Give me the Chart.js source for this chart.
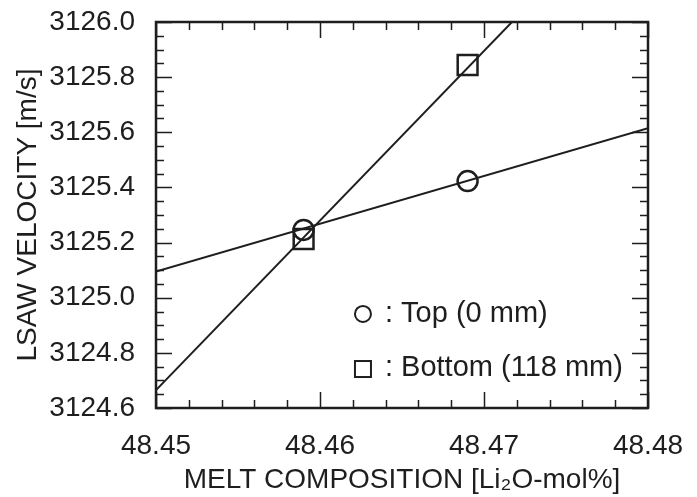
<!DOCTYPE html>
<html>
<head>
<meta charset="utf-8">
<script src="https://cdn.jsdelivr.net/npm/chart.js@4.4.0/dist/chart.umd.min.js"></script>
<style>
  html,body{margin:0;padding:0;background:#fff;}
  #wrap{width:697px;height:497px;position:relative;}
</style>
</head>
<body>
<div id="wrap"><canvas id="c" width="697" height="497"></canvas></div>
<script>
// measured points
const compX = [48.459, 48.469];
const topVel = [3125.246, 3125.423];
const bottomVel = [3125.213, 3125.844];
// fitted lines (end points at the axis limits)
const fitX = [48.45, 48.48];
const topFit = [3125.095, 3125.615];
const bottomFit = [3124.665, 3126.51];
// axis ticks
const xTicks = [48.45, 48.46, 48.47, 48.48];
const yTicks = [3124.6, 3124.8, 3125.0, 3125.2, 3125.4, 3125.6, 3125.8, 3126.0];
const legendLabels = [': Top (0 mm)', ': Bottom (118 mm)'];

const INK = '#1e1e1e';
const FONT = 'Liberation Sans, Arial, sans-serif';

function pts(xs, ys){ return xs.map((x,i)=>({x:x, y:ys[i]})); }

// inward ticks on all four sides + box + legend
const frame = {
  id:'frame',
  afterDatasetsDraw(chart){
    const {ctx, chartArea:a, scales:{x, y}} = chart;
    ctx.save();
    ctx.strokeStyle = INK;
    ctx.lineWidth = 1.5;
    const tick = (px, len, vertical) => {
      ctx.beginPath();
      if(vertical){
        ctx.moveTo(px, a.bottom); ctx.lineTo(px, a.bottom - len);
        ctx.moveTo(px, a.top); ctx.lineTo(px, a.top + len);
      }else{
        ctx.moveTo(a.left, px); ctx.lineTo(a.left + len, px);
        ctx.moveTo(a.right, px); ctx.lineTo(a.right - len, px);
      }
      ctx.stroke();
    };
    for(let i=0;i<=15;i++){
      const v = 48.45 + i*0.002;
      tick(Math.round(x.getPixelForValue(v))+0.5, i%5===0 ? 16 : 8, true);
    }
    for(let i=0;i<=28;i++){
      const v = 3124.6 + i*0.05;
      tick(Math.round(y.getPixelForValue(v))+0.5, i%4===0 ? 16 : 8, false);
    }
    ctx.lineWidth = 2.5;
    ctx.strokeRect(a.left, a.top, a.right - a.left, a.bottom - a.top);

    // legend
    ctx.lineWidth = 2;
    ctx.fillStyle = INK;
    ctx.font = '29px ' + FONT;
    ctx.textBaseline = 'middle';
    const lx = x.getPixelForValue(48.46262);
    const ly1 = y.getPixelForValue(3124.941);
    const ly2 = y.getPixelForValue(3124.745);
    ctx.beginPath(); ctx.arc(lx, ly1, 8, 0, Math.PI*2); ctx.stroke();
    ctx.strokeRect(lx - 8, ly2 - 7, 16, 16);
    ctx.fillText(legendLabels[0], lx + 22, ly1);
    ctx.fillText(legendLabels[1], lx + 22, ly2);
    ctx.restore();
  }
};

new Chart(document.getElementById('c'), {
  type:'scatter',
  data:{
    datasets:[
      { data: pts(fitX, topFit), showLine:true, borderColor:INK, borderWidth:2, pointRadius:0 },
      { data: pts(fitX, bottomFit), showLine:true, borderColor:INK, borderWidth:2, pointRadius:0 },
      { data: pts(compX, topVel), pointStyle:'circle', pointRadius:10, borderColor:INK, borderWidth:2.5, backgroundColor:'rgba(0,0,0,0)' },
      { data: pts(compX, bottomVel), pointStyle:'rect', pointRadius:14, borderColor:INK, borderWidth:2.5, backgroundColor:'rgba(0,0,0,0)' }
    ]
  },
  options:{
    responsive:false,
    animation:false,
    layout:{ padding:{ top:22, right:49, left:0, bottom:0 } },
    plugins:{ legend:{display:false}, tooltip:{enabled:false} },
    scales:{
      x:{
        type:'linear', min:48.45, max:48.48,
        afterBuildTicks: s => { s.ticks = xTicks.map(v=>({value:v})); },
        afterFit: s => { s.height = 89; s.paddingLeft = 0; s.paddingRight = 0; },
        grid:{ display:false }, border:{ display:false },
        ticks:{ color:INK, font:{ family:FONT, size:28 }, padding:13, maxRotation:0,
          callback: v => Number(v).toFixed(2) },
        title:{ display:true, text:'MELT COMPOSITION [Li₂O-mol%]', color:INK,
          font:{ family:FONT, size:28 }, padding:{ top:0, bottom:0 } }
      },
      y:{
        type:'linear', min:3124.6, max:3126.0,
        afterBuildTicks: s => { s.ticks = yTicks.map(v=>({value:v})); },
        afterFit: s => { s.width = 156; s.paddingTop = 0; s.paddingBottom = 0; },
        grid:{ display:false }, border:{ display:false },
        ticks:{ color:INK, font:{ family:FONT, size:28 }, padding:13,
          callback: v => Number(v).toFixed(1) },
        title:{ display:true, text:'LSAW VELOCITY [m/s]', color:INK,
          font:{ family:FONT, size:28 }, padding:{ top:11, bottom:0 } }
      }
    }
  },
  plugins:[frame]
});
</script>
</body>
</html>
